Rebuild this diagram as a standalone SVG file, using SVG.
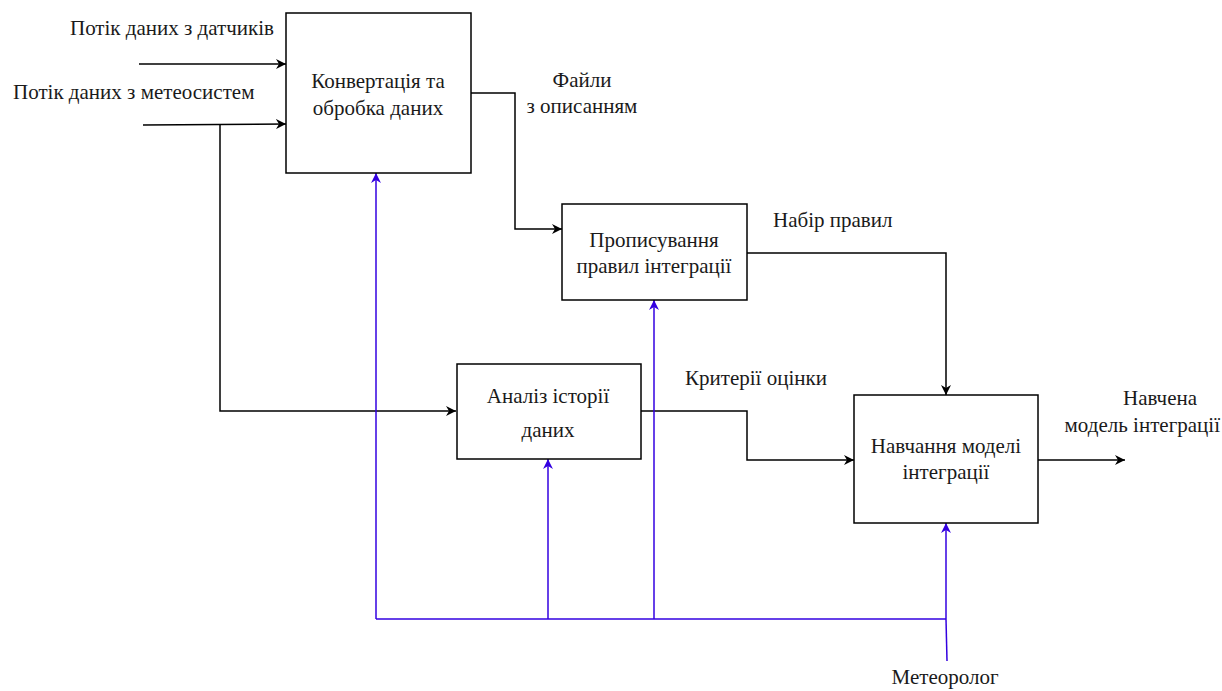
<svg xmlns="http://www.w3.org/2000/svg" width="1222" height="691" viewBox="0 0 1222 691">
  <defs>
    <marker id="arrow-black" viewBox="0 0 10 10" refX="10" refY="5" markerWidth="10" markerHeight="10" markerUnits="userSpaceOnUse" orient="auto">
      <path d="M0,0 L10,5 L0,10 L3,5 Z" fill="#000"/>
    </marker>
    <marker id="arrow-blue" viewBox="0 0 10 10" refX="10" refY="5" markerWidth="10" markerHeight="10" markerUnits="userSpaceOnUse" orient="auto">
      <path d="M0,0 L10,5 L0,10 L3,5 Z" fill="#3300E0"/>
    </marker>
    <style>
      .box { fill: #fff; stroke: #000; stroke-width: 1.5; }
      .lbl { font-family: 'Liberation Serif', 'Times New Roman', serif; font-size: 21px; fill: #1a1a1a; }
      .mid { text-anchor: middle; }
      .end { text-anchor: end; }
      .flow { fill: none; stroke: #000; stroke-width: 1.5; }
      .ctrl { fill: none; stroke: #3300E0; stroke-width: 1.5; }
    </style>
  </defs>

  <!-- connectors -->
  <g id="connectors">
    <!-- inputs to conversion block -->
    <path class="flow" d="M139,64 H286" marker-end="url(#arrow-black)"/>
    <path class="flow" d="M143,125 L286,124" marker-end="url(#arrow-black)"/>
    <!-- branch of weather data to history analysis -->
    <path class="flow" d="M220,125 V411 H456" marker-end="url(#arrow-black)"/>
    <!-- described files -->
    <path class="flow" d="M471,93 H515 V229 H562" marker-end="url(#arrow-black)"/>
    <!-- rule set -->
    <path class="flow" d="M747,253 H946 V395" marker-end="url(#arrow-black)"/>
    <!-- evaluation criteria -->
    <path class="flow" d="M641,411 H747 V460 H854" marker-end="url(#arrow-black)"/>
    <!-- trained model output -->
    <path class="flow" d="M1038,460 H1125" marker-end="url(#arrow-black)"/>

    <!-- meteorologist mechanism bus -->
    <path class="ctrl" d="M376,619 H946"/>
    <path class="ctrl" d="M946,619 L947,661"/>
    <path class="ctrl" d="M376,619 V173" marker-end="url(#arrow-blue)"/>
    <path class="ctrl" d="M548,619 V459" marker-end="url(#arrow-blue)"/>
    <path class="ctrl" d="M654,619 V300" marker-end="url(#arrow-blue)"/>
    <path class="ctrl" d="M946,619 V523" marker-end="url(#arrow-blue)"/>
  </g>

  <!-- blocks -->
  <g id="convert">
    <rect class="box" x="286" y="13" width="185" height="160"/>
    <text class="lbl mid" x="378" y="88">Конвертація та</text>
    <text class="lbl mid" x="378" y="115">обробка даних</text>
  </g>
  <g id="rules">
    <rect class="box" x="562" y="204" width="185" height="96"/>
    <text class="lbl mid" x="654" y="247">Прописування</text>
    <text class="lbl mid" x="654" y="273">правил інтеграції</text>
  </g>
  <g id="history">
    <rect class="box" x="457" y="364" width="184" height="95"/>
    <text class="lbl mid" x="548" y="403">Аналіз історії</text>
    <text class="lbl mid" x="548" y="437">даних</text>
  </g>
  <g id="training">
    <rect class="box" x="854" y="395" width="184" height="128"/>
    <text class="lbl mid" x="946" y="453">Навчання моделі</text>
    <text class="lbl mid" x="946" y="479">інтеграції</text>
  </g>

  <!-- arrow labels -->
  <g id="labels">
    <text class="lbl end" x="274" y="35">Потік даних з датчиків</text>
    <text class="lbl" x="13" y="99">Потік даних з метеосистем</text>
    <text class="lbl mid" x="582" y="87">Файли</text>
    <text class="lbl mid" x="582" y="113">з описанням</text>
    <text class="lbl" x="773" y="227">Набір правил</text>
    <text class="lbl" x="685" y="385">Критерії оцінки</text>
    <text class="lbl mid" x="1160" y="405">Навчена</text>
    <text class="lbl end" x="1220" y="432">модель інтеграції</text>
    <text class="lbl mid" x="945" y="684">Метеоролог</text>
  </g>
</svg>
